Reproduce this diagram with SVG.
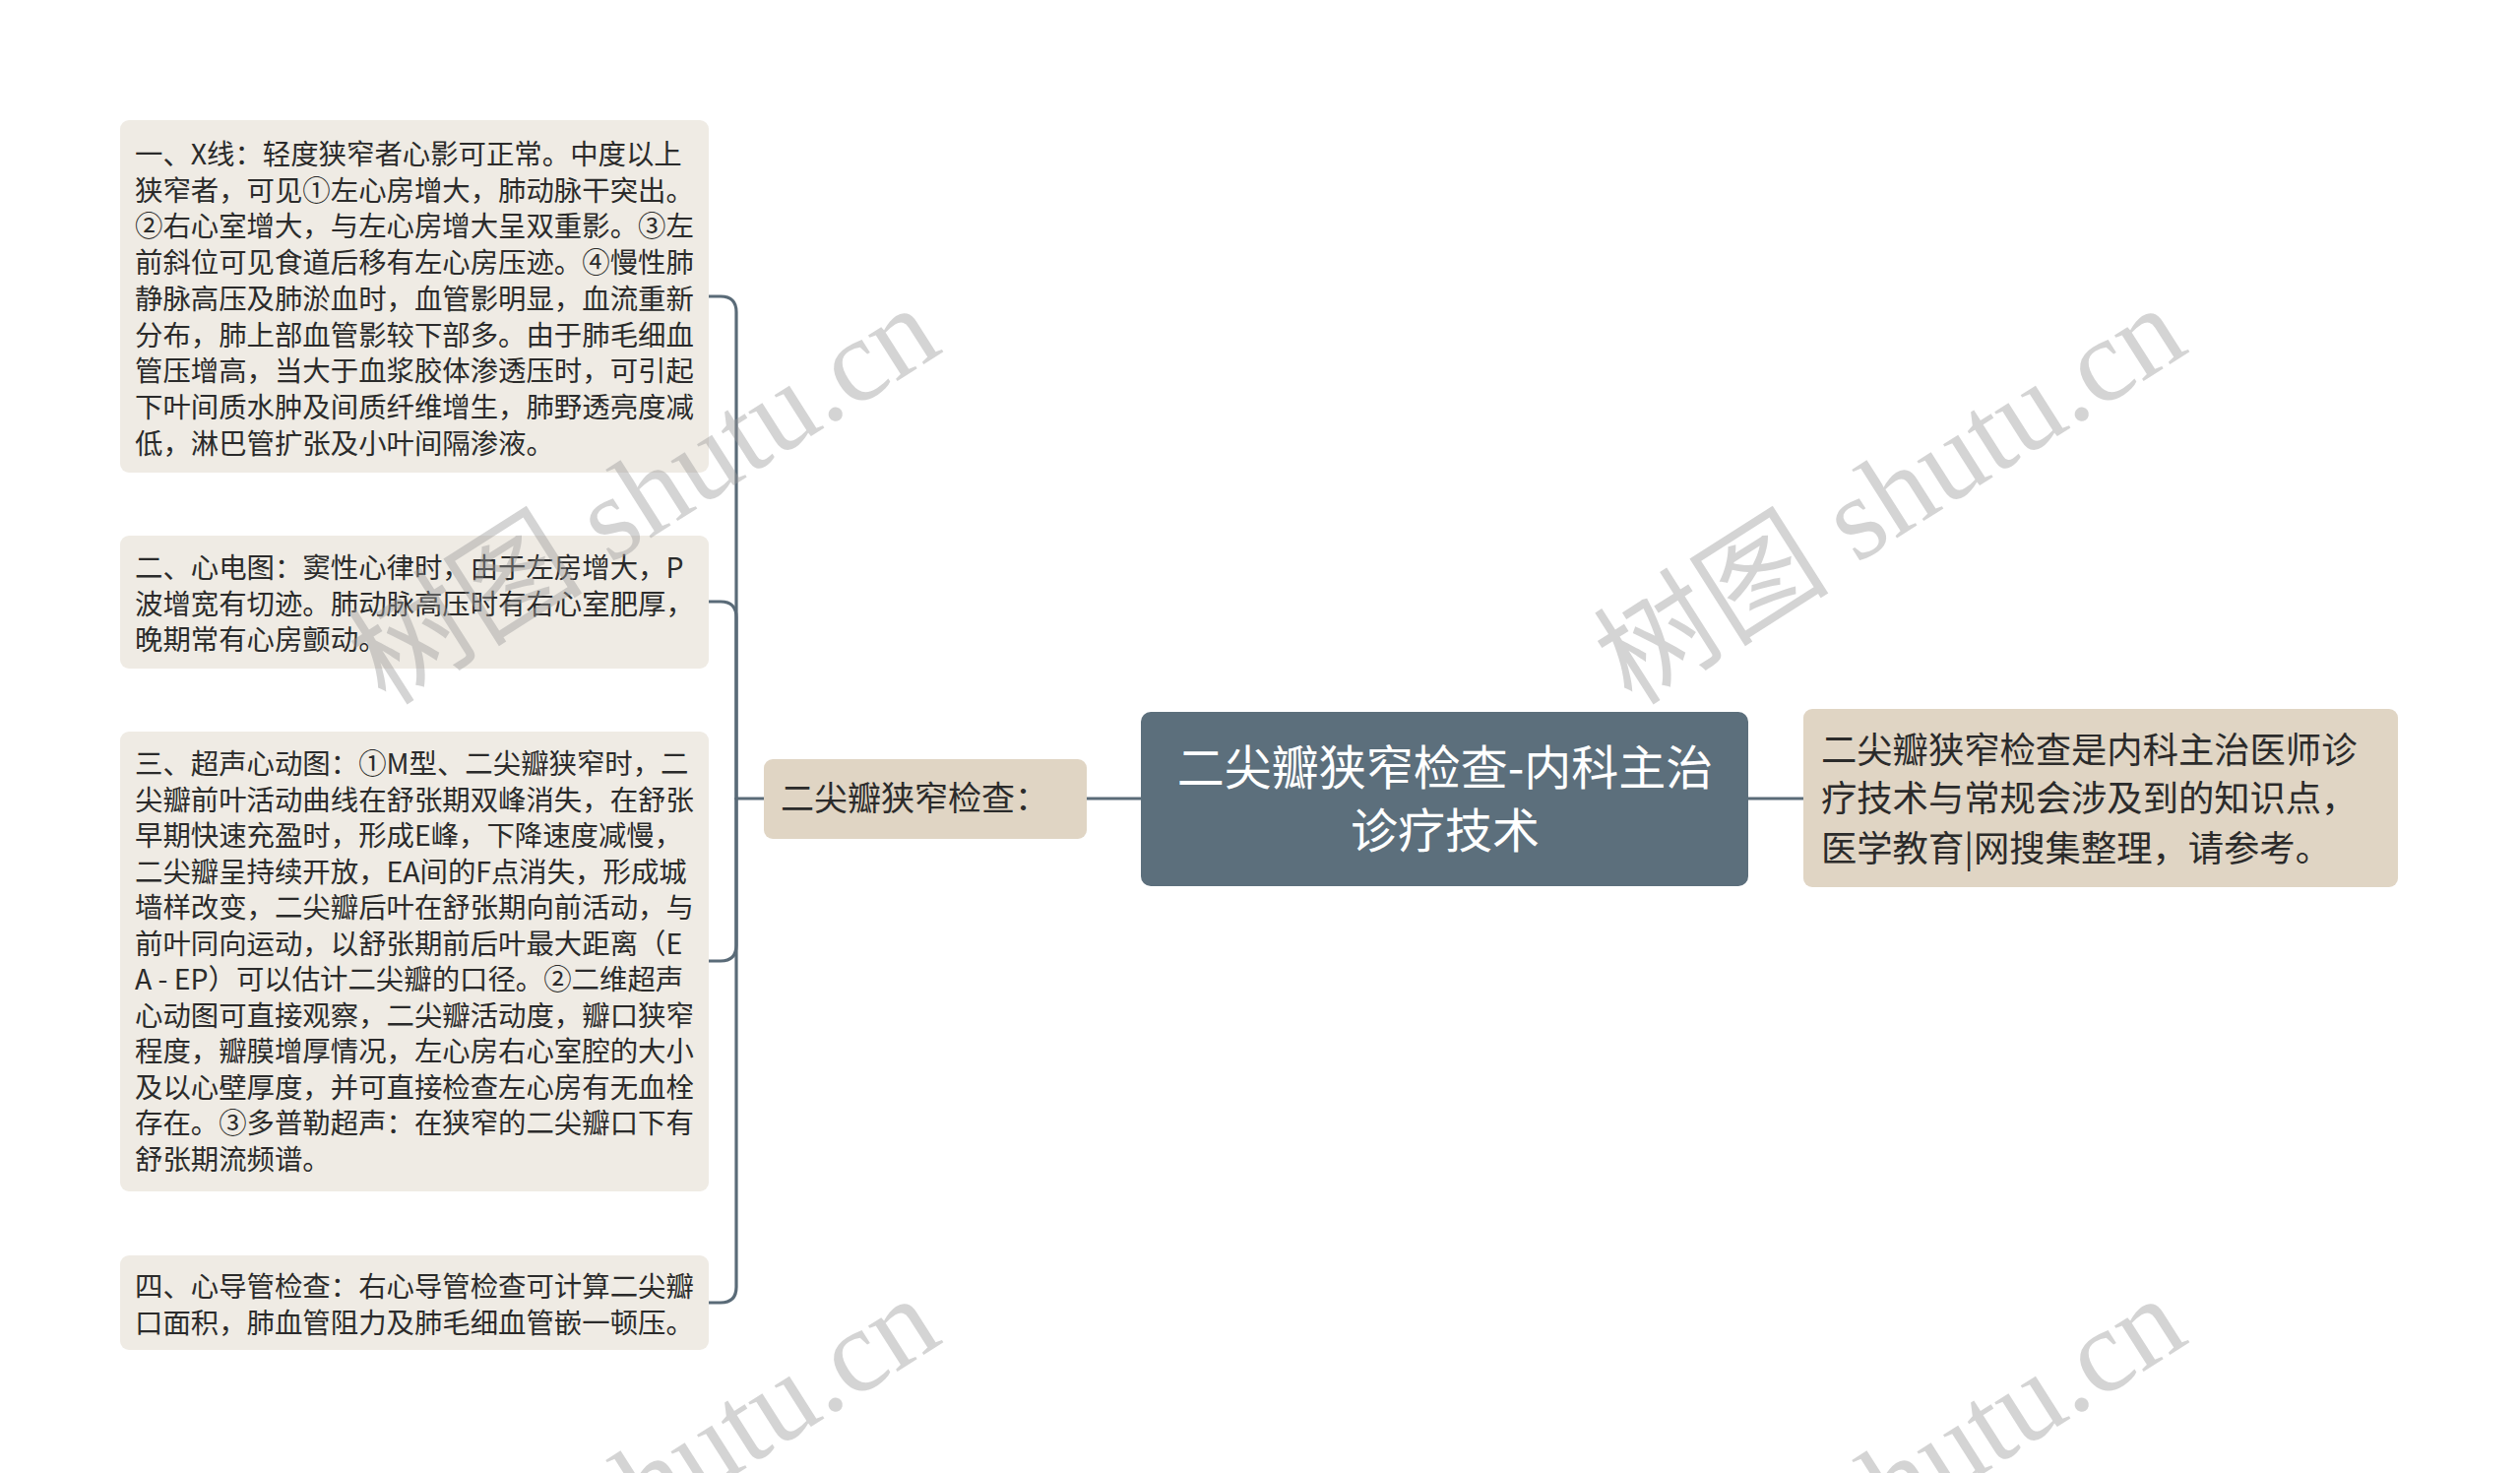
<svg xmlns="http://www.w3.org/2000/svg" width="2560" height="1496" viewBox="0 0 2560 1496">
<style>
.bg{fill:#ffffff}
.leaf{fill:#efebe4}
.sub{fill:#e0d5c4}
.root{fill:#5c6f7c}
.t{font-family:"Noto Sans CJK SC","Noto Sans",sans-serif;fill:#2b2b2b}
.lt{font-size:28.4px}
.rt{font-size:48px;fill:#ffffff}
.mt{font-size:34px}
.st{font-size:36.3px}
.conn{fill:none;stroke:#5a6b78;stroke-width:3.2;stroke-linecap:round}
.wm{font-family:"Liberation Serif","Noto Sans CJK SC",serif;font-size:120px;fill:#9a9a9a;opacity:0.42}
</style>
<rect class="bg" x="0" y="0" width="2560" height="1496"/>

<g id="connectors">
<path class="conn" d="M1159 811 H1104"/>
<path class="conn" d="M1776 811 H1832"/>
<path class="conn" d="M776 811 H748"/>
<path class="conn" d="M748 811 V317 Q748 301 732 301 H720"/>
<path class="conn" d="M748 811 V627 Q748 611 732 611 H720"/>
<path class="conn" d="M748 811 V960 Q748 976 732 976 H720"/>
<path class="conn" d="M748 811 V1307 Q748 1323 732 1323 H720"/>
</g>

<g id="node-root">
<rect class="root" x="1159" y="723" width="617" height="177" rx="10"/>
<text class="t rt" x="1468" y="797" text-anchor="middle">二尖瓣狭窄检查-内科主治</text>
<text class="t rt" x="1468" y="861" text-anchor="middle">诊疗技术</text>
</g>

<g id="node-sub-left">
<rect class="sub" x="776" y="771" width="328" height="81" rx="9"/>
<text class="t mt" x="793" y="823">二尖瓣狭窄检查：</text>
</g>

<g id="node-sub-right">
<rect class="sub" x="1832" y="720" width="604" height="181" rx="9"/>
<text class="t st" x="1850" y="775">二尖瓣狭窄检查是内科主治医师诊</text>
<text class="t st" x="1850" y="824">疗技术与常规会涉及到的知识点，</text>
<text class="t st" x="1850" y="875">医学教育|网搜集整理，请参考。</text>
</g>

<g id="node-leaf-1">
<rect class="leaf" x="122" y="122" width="598" height="358" rx="9"/>
<text class="t lt" x="137" y="167">
<tspan x="137" dy="0">一、X线：轻度狭窄者心影可正常。中度以上</tspan>
<tspan x="137" dy="36.7">狭窄者，可见①左心房增大，肺动脉干突出。</tspan>
<tspan x="137" dy="36.7">②右心室增大，与左心房增大呈双重影。③左</tspan>
<tspan x="137" dy="36.7">前斜位可见食道后移有左心房压迹。④慢性肺</tspan>
<tspan x="137" dy="36.7">静脉高压及肺淤血时，血管影明显，血流重新</tspan>
<tspan x="137" dy="36.7">分布，肺上部血管影较下部多。由于肺毛细血</tspan>
<tspan x="137" dy="36.7">管压增高，当大于血浆胶体渗透压时，可引起</tspan>
<tspan x="137" dy="36.7">下叶间质水肿及间质纤维增生，肺野透亮度减</tspan>
<tspan x="137" dy="36.7">低，淋巴管扩张及小叶间隔渗液。</tspan>
</text>
</g>

<g id="node-leaf-2">
<rect class="leaf" x="122" y="544" width="598" height="135" rx="9"/>
<text class="t lt" x="137" y="587">
<tspan x="137" dy="0">二、心电图：窦性心律时，由于左房增大，P</tspan>
<tspan x="137" dy="36.7">波增宽有切迹。肺动脉高压时有右心室肥厚，</tspan>
<tspan x="137" dy="36.7">晚期常有心房颤动。</tspan>
</text>
</g>

<g id="node-leaf-3">
<rect class="leaf" x="122" y="743" width="598" height="467" rx="9"/>
<text class="t lt" x="137" y="786">
<tspan x="137" dy="0">三、超声心动图：①M型、二尖瓣狭窄时，二</tspan>
<tspan x="137" dy="36.5">尖瓣前叶活动曲线在舒张期双峰消失，在舒张</tspan>
<tspan x="137" dy="36.5">早期快速充盈时，形成E峰，下降速度减慢，</tspan>
<tspan x="137" dy="36.5">二尖瓣呈持续开放，EA间的F点消失，形成城</tspan>
<tspan x="137" dy="36.5">墙样改变，二尖瓣后叶在舒张期向前活动，与</tspan>
<tspan x="137" dy="36.5">前叶同向运动，以舒张期前后叶最大距离（E</tspan>
<tspan x="137" dy="36.5">A - EP）可以估计二尖瓣的口径。②二维超声</tspan>
<tspan x="137" dy="36.5">心动图可直接观察，二尖瓣活动度，瓣口狭窄</tspan>
<tspan x="137" dy="36.5">程度，瓣膜增厚情况，左心房右心室腔的大小</tspan>
<tspan x="137" dy="36.5">及以心壁厚度，并可直接检查左心房有无血栓</tspan>
<tspan x="137" dy="36.5">存在。③多普勒超声：在狭窄的二尖瓣口下有</tspan>
<tspan x="137" dy="36.5">舒张期流频谱。</tspan>
</text>
</g>

<g id="node-leaf-4">
<rect class="leaf" x="122" y="1275" width="598" height="96" rx="9"/>
<text class="t lt" x="137" y="1317">
<tspan x="137" dy="0">四、心导管检查：右心导管检查可计算二尖瓣</tspan>
<tspan x="137" dy="36.7">口面积，肺血管阻力及肺毛细血管嵌一顿压。</tspan>
</text>
</g>

<g id="watermarks">
<text class="wm" transform="translate(392 718) rotate(-32.5)">树图 shutu.cn</text>
<text class="wm" transform="translate(1658 718) rotate(-32.5)">树图 shutu.cn</text>
<text class="wm" transform="translate(392 1724) rotate(-32.5)">树图 shutu.cn</text>
<text class="wm" transform="translate(1658 1724) rotate(-32.5)">树图 shutu.cn</text>
</g>
</svg>
